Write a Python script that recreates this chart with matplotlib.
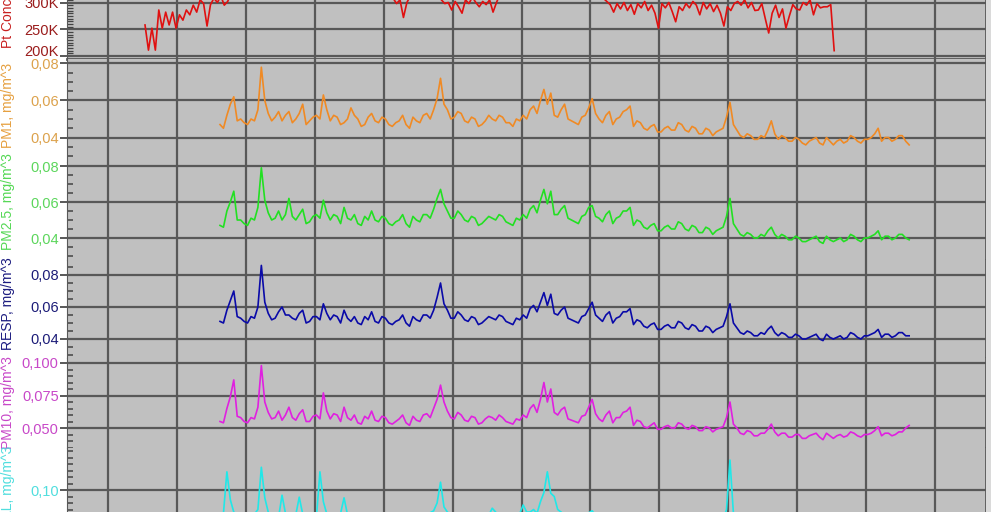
import matplotlib.pyplot as plt
from matplotlib.ticker import MultipleLocator, FuncFormatter
from matplotlib.patches import Rectangle
import numpy as np

# stacked particle monitor traces (TrakPro style)

W, H = 998, 512
plt.rcParams['font.family'] = ['Liberation Sans', 'DejaVu Sans']

# time axis, hours (one grid line per hour), 3 min samples
t_pt = 0.537 + 0.05 * np.arange(201)
t_pm = 1.625 + 0.05 * np.arange(201)

# particle count, thousands
pt_conc = [258, 211, 252, 211, 286, 252, 282, 258, 282, 252, 277, 267, 286, 277, 295, 282, 305, 298, 256, 296,
           308, 300, 312, 295, 302, 318, 310, 322, 315, 328, 318, 325, 335, 320, 328, 318, 330, 322, 334, 325,
           318, 330, 322, 315, 328, 320, 335, 318, 325, 312, 330, 320, 316, 328, 322, 315, 326, 318, 312, 324,
           318, 328, 320, 315, 326, 318, 330, 322, 315, 325, 312, 318, 308, 298, 305, 272, 300, 312, 318, 322,
           315, 325, 318, 328, 320, 312, 305, 298, 300, 286, 302, 292, 280, 305, 298, 310, 300, 292, 302, 296,
           305, 282, 300, 315, 322, 318, 328, 320, 325, 315, 328, 320, 332, 318, 326, 315, 322, 312, 325, 318,
           330, 320, 325, 315, 328, 320, 312, 318, 325, 315, 320, 312, 318, 308, 302, 296, 282, 298, 288, 300,
           285, 296, 278, 298, 290, 302, 285, 295, 280, 252, 298, 290, 300, 283, 264, 292, 285, 298, 290, 302,
           295, 277, 300, 288, 298, 283, 295, 280, 256, 292, 285, 298, 302, 295, 305, 290, 300, 285, 286, 298,
           270, 243, 280, 295, 272, 288, 252, 275, 296, 288, 286, 300, 295, 305, 277, 298, 290, 292, 292, 296,
           210]

# mass concentrations, ug/m^3
pm1 = [47, 45, 52, 58, 62, 49, 50, 48, 47, 50, 49, 55, 78, 60, 53, 49, 51, 54, 49, 52,
       54, 48, 50, 53, 58, 47, 49, 51, 52, 50, 63, 55, 49, 52, 51, 47, 48, 50, 56, 52,
       50, 46, 47, 51, 53, 49, 48, 51, 50, 47, 46, 48, 49, 52, 47, 45, 51, 49, 48, 52,
       53, 50, 55, 61, 72, 58, 55, 50, 51, 54, 53, 49, 48, 51, 50, 46, 47, 49, 52, 50,
       49, 52, 51, 48, 48, 46, 50, 49, 52, 50, 55, 57, 53, 60, 66, 58, 64, 52, 51, 55,
       58, 50, 49, 48, 47, 51, 52, 56, 61, 53, 50, 48, 52, 54, 47, 50, 51, 54, 55, 57,
       46, 49, 48, 45, 44, 46, 47, 43, 43, 45, 46, 44, 44, 48, 47, 44, 43, 46, 45, 42,
       42, 45, 44, 41, 43, 44, 45, 51, 59, 47, 44, 41, 40, 42, 41, 39, 39, 41, 40, 44,
       49, 42, 39, 41, 40, 38, 38, 40, 39, 37, 36, 38, 39, 40, 37, 36, 40, 38, 36, 38,
       39, 37, 38, 41, 40, 38, 37, 39, 39, 40, 42, 45, 38, 40, 40, 38, 39, 41, 41, 38,
       36]
pm25 = [47, 46, 55, 60, 66, 50, 50, 48, 47, 51, 50, 57, 79, 61, 54, 50, 51, 55, 50, 53,
        62, 52, 50, 53, 56, 48, 49, 52, 53, 51, 61, 54, 50, 53, 52, 48, 57, 51, 50, 53,
        48, 47, 52, 50, 55, 50, 49, 52, 51, 48, 47, 49, 50, 53, 48, 46, 52, 50, 49, 53,
        53, 51, 56, 62, 67, 59, 55, 51, 51, 55, 53, 50, 49, 52, 51, 47, 48, 50, 52, 51,
        50, 53, 52, 49, 48, 47, 51, 50, 53, 51, 56, 58, 54, 61, 67, 59, 66, 53, 53, 56,
        58, 51, 50, 49, 48, 52, 53, 57, 58, 52, 51, 49, 53, 55, 48, 51, 52, 55, 55, 57,
        47, 50, 49, 46, 45, 47, 48, 44, 44, 46, 47, 45, 45, 49, 48, 45, 44, 47, 46, 43,
        43, 46, 45, 42, 44, 45, 46, 52, 62, 48, 45, 42, 41, 43, 42, 40, 40, 42, 41, 44,
        46, 42, 40, 42, 41, 39, 39, 41, 40, 38, 38, 39, 40, 41, 38, 37, 41, 39, 38, 39,
        40, 38, 39, 42, 41, 39, 38, 40, 40, 41, 42, 44, 39, 41, 41, 39, 40, 42, 42, 40,
        39]
resp = [51, 50, 58, 64, 70, 54, 53, 51, 50, 54, 53, 60, 86, 63, 56, 52, 53, 57, 60, 55,
        55, 53, 52, 56, 58, 50, 51, 54, 54, 52, 62, 56, 52, 55, 54, 50, 58, 53, 51, 54,
        50, 49, 54, 52, 57, 51, 50, 54, 53, 50, 49, 51, 52, 55, 50, 48, 54, 52, 51, 55,
        55, 53, 58, 66, 75, 62, 58, 53, 53, 57, 55, 52, 51, 54, 53, 49, 50, 52, 54, 53,
        52, 55, 54, 51, 50, 49, 53, 52, 55, 53, 59, 61, 57, 63, 69, 61, 68, 56, 55, 58,
        60, 53, 52, 51, 50, 54, 55, 59, 63, 55, 53, 51, 55, 57, 50, 53, 54, 57, 57, 59,
        49, 52, 51, 48, 47, 49, 50, 46, 46, 48, 49, 47, 47, 51, 50, 47, 46, 49, 48, 45,
        45, 48, 47, 44, 46, 47, 48, 54, 62, 50, 47, 44, 43, 45, 44, 42, 42, 44, 43, 46,
        48, 44, 42, 44, 43, 41, 41, 43, 42, 40, 40, 41, 42, 43, 40, 39, 43, 41, 40, 41,
        42, 40, 41, 44, 43, 41, 40, 42, 42, 43, 44, 46, 41, 43, 43, 41, 42, 44, 44, 42,
        42]
pm10 = [55, 54, 65, 74, 87, 59, 58, 55, 54, 58, 57, 66, 98, 70, 62, 57, 58, 63, 56, 60,
        66, 58, 56, 61, 64, 55, 55, 59, 60, 57, 77, 63, 57, 61, 60, 55, 66, 58, 56, 60,
        54, 53, 59, 57, 63, 56, 55, 59, 58, 54, 53, 55, 57, 60, 54, 52, 59, 56, 55, 60,
        61, 58, 65, 72, 83, 70, 63, 58, 57, 62, 60, 56, 55, 59, 58, 53, 54, 57, 59, 58,
        56, 60, 58, 55, 54, 53, 57, 56, 60, 58, 65, 68, 62, 72, 85, 70, 80, 62, 60, 64,
        66, 57, 56, 55, 54, 59, 60, 66, 72, 61, 57, 55, 60, 63, 54, 58, 58, 62, 63, 66,
        52, 56, 55, 51, 50, 52, 54, 49, 49, 51, 52, 50, 50, 54, 53, 50, 49, 52, 51, 48,
        48, 51, 50, 47, 49, 50, 51, 58, 70, 53, 50, 46, 45, 48, 47, 44, 44, 46, 46, 49,
        53, 47, 44, 46, 46, 43, 43, 45, 45, 42, 42, 44, 45, 46, 43, 41, 46, 44, 42, 44,
        45, 43, 44, 47, 46, 44, 43, 45, 45, 46, 48, 51, 44, 46, 46, 44, 45, 47, 47, 50,
        52]
total = [60, 64, 128, 85, 66, 62, 60, 64, 58, 61, 63, 70, 135, 88, 66, 60, 63, 58, 92, 64,
         61, 59, 62, 89, 63, 60, 58, 62, 59, 128, 82, 63, 60, 61, 58, 64, 88, 62, 59, 61,
         58, 60, 57, 62, 60, 58, 56, 59, 61, 57, 56, 58, 59, 61, 57, 55, 60, 58, 57, 60,
         63, 65, 68, 80, 112, 74, 66, 62, 60, 63, 62, 59, 58, 61, 60, 57, 58, 60, 61, 72,
         66, 60, 59, 58, 57, 61, 62, 64, 77, 66, 66, 70, 64, 82, 96, 128, 95, 90, 70, 66,
         62, 60, 59, 58, 58, 60, 62, 65, 68, 61, 59, 58, 61, 60, 56, 59, 60, 62, 64, 61,
         55, 57, 57, 55, 53, 55, 56, 54, 52, 54, 55, 53, 53, 56, 56, 53, 52, 55, 54, 51,
         51, 53, 53, 50, 52, 53, 54, 70, 146, 64, 54, 51, 50, 52, 51, 49, 49, 51, 50, 53,
         56, 52, 49, 51, 50, 48, 49, 50, 49, 47, 47, 48, 49, 50, 47, 46, 50, 48, 47, 49,
         49, 48, 48, 51, 50, 48, 47, 49, 50, 50, 51, 54, 48, 50, 50, 48, 49, 51, 51, 49,
         48]

GRID = '#585858'
BG = '#c0c0c0'

fig = plt.figure(figsize=(W / 100, H / 100), dpi=100)
fig.patch.set_facecolor('white')
# thin light border right of the plot frame
fig.patches.append(Rectangle((986 / W, 0), 5 / W, 1, transform=fig.transFigure,
                             facecolor='#dadada', edgecolor='none'))


def comma(dec):
    return FuncFormatter(lambda v, p: ('{:.%df}' % dec).format(v).replace('.', ','))


def panel(top, bottom, ref_px, ref_val, per_px, major, minor, fmt):
    ax = fig.add_axes([67 / W, 1 - bottom / H, (986 - 67) / W, (bottom - top) / H])
    ax.set_facecolor(BG)
    ax.set_ylim(ref_val + (ref_px - bottom) * per_px, ref_val + (ref_px - top) * per_px)
    ax.set_xlim(-0.595, 12.74)
    ax.xaxis.set_major_locator(MultipleLocator(1))
    ax.yaxis.set_major_locator(MultipleLocator(major))
    ax.yaxis.set_minor_locator(MultipleLocator(minor))
    ax.yaxis.set_major_formatter(fmt)
    ax.grid(True, which='major', color=GRID, linewidth=1.6)
    ax.set_axisbelow(True)
    ax.tick_params(axis='x', length=0, labelbottom=False)
    ax.tick_params(axis='y', which='major', direction='out', length=5, width=1.4,
                   color=GRID, pad=1, labelsize=10.5)
    ax.tick_params(axis='y', which='minor', direction='in', length=4.5, width=1.1, color='#444444')
    for s in ('top', 'bottom'):
        ax.spines[s].set_visible(False)
    ax.spines['left'].set_color(GRID)
    ax.spines['right'].set_color(GRID)
    ax.spines['right'].set_linewidth(2)
    return ax


def ylab(text, color, y, va='center'):
    fig.text(8 / W, 1 - y / H, text, rotation=90, color=color, fontsize=10,
             ha='center', va=va)


k_fmt = FuncFormatter(lambda v, p: '{:.0f}K'.format(v))

ax1 = panel(-30, 58.5, 56, 200, 100 / 53.5, 50, 5, k_fmt)
ax1.spines['bottom'].set_visible(True)
ax1.spines['bottom'].set_color(GRID)
ax1.spines['bottom'].set_linewidth(2)
ax1.plot(t_pt, pt_conc, color='#e01010', lw=1.2)
ax1.tick_params(axis='y', labelcolor='#9a1c1c')
ax1.tick_params(axis='y', which='minor', width=0.9)
ax1.set_yticks([200, 250, 300, 350])
ax1.set_yticklabels(['200K', '250K', '300K', '350K'])
ax1.get_yticklabels()[0].set_va('baseline')
ylab('Pt Conc, pt/ft^3', '#c82020', 48, va='bottom')

ax2 = panel(58.5, 162, 63.5, 0.08, 0.02 / 37, 0.02, 0.005, comma(2))
ax2.plot(t_pm, np.array(pm1) / 1000, color='#f08a24', lw=1.2)
ax2.tick_params(axis='y', labelcolor='#dca24c')
ylab('PM1, mg/m^3', '#e6a040', 105)

ax3 = panel(162, 260, 166, 0.08, 0.02 / 36, 0.02, 0.005, comma(2))
ax3.plot(t_pm, np.array(pm25) / 1000, color='#22e022', lw=1.2)
ax3.tick_params(axis='y', labelcolor='#5cd65c')
ylab('PM2.5, mg/m^3', '#55d855', 202)

ax4 = panel(260, 358, 275, 0.08, 0.02 / 32, 0.02, 0.005, comma(2))
ax4.plot(t_pm, np.array(resp) / 1000, color='#0a0aa8', lw=1.2)
ax4.tick_params(axis='y', labelcolor='#1c1c78')
ylab('RESP, mg/m^3', '#1c1c80', 304)

ax5 = panel(358, 448, 363, 0.1, 0.025 / 32.5, 0.025, 0.005, comma(3))
ax5.plot(t_pm, np.array(pm10) / 1000, color='#e020e0', lw=1.2)
ax5.tick_params(axis='y', labelcolor='#c848c8')
ylab('PM10, mg/m^3', '#c848c8', 403)

ax6 = panel(448, 560, 490, 0.1, 0.05 / 32.5, 0.1, 0.01, comma(2))
ax6.plot(t_pm, np.array(total) / 1000, color='#20e8e8', lw=1.2)
ax6.tick_params(axis='y', labelcolor='#50dede')
ylab('TOTAL, mg/m^3', '#50dede', 446, va='top')

fig.savefig('out.png', dpi=100)
